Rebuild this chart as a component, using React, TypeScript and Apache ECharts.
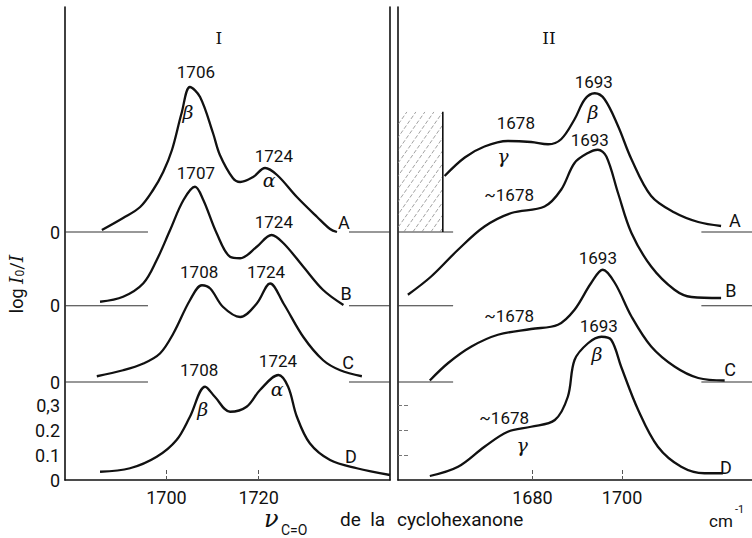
import React, { useEffect, useRef } from "react";
import * as echarts from "echarts";

// ---------- axis ranges / ticks ----------
const panelIRange = [1678, 1748.5];
const panelIIRange = [1650, 1729];
const yMax = 1.892;
const panelITicks = [1700, 1720];
const panelIITicks = [1680, 1700];

// ---------- baselines (zero of each trace, in log I0/I units) ----------
const baseA = 0.992;
const baseB = 0.697;
const baseC = 0.392;
const baseD = 0;

const yLabelValues = [0, 0.1, 0.2, 0.3, baseC, baseB, baseA];
const yLabelTexts = ["0", "0.1", "0.2", "0,3", "0", "0", "0"];

// ---------- spectra: [wavenumber, log I0/I above own baseline] ----------
const curveIA = [[1686.0,0.008],[1690.6,0.056],[1694.3,0.10],[1697.1,0.168],[1699.3,0.24],[1701.2,0.328],[1703.3,0.476],[1705.1,0.58],[1707.3,0.54],[1710.1,0.396],[1711.6,0.308],[1714.4,0.216],[1716.0,0.2],[1718.8,0.22],[1721.4,0.256],[1724.0,0.228],[1728.3,0.14],[1732.7,0.06],[1735.5,0.012],[1737.0,0.0]];
const curveIB = [[1685.6,0.016],[1690.6,0.036],[1695.0,0.09],[1697.9,0.183],[1700.8,0.303],[1703.7,0.423],[1706.2,0.476],[1708.0,0.423],[1710.9,0.29],[1713.8,0.196],[1716.0,0.19],[1719.6,0.236],[1722.8,0.283],[1725.4,0.25],[1729.7,0.156],[1734.0,0.063],[1738.4,0.003]];
const curveIC = [[1684.9,0.023],[1690.6,0.047],[1695.0,0.074],[1698.6,0.114],[1701.5,0.194],[1705.1,0.327],[1707.7,0.387],[1709.5,0.374],[1712.3,0.30],[1716.0,0.26],[1719.6,0.314],[1722.5,0.394],[1725.4,0.314],[1729.7,0.18],[1734.0,0.087],[1737.7,0.047],[1742.4,0.023]];
const curveID = [[1685.6,0.033],[1692.1,0.047],[1697.9,0.093],[1702.2,0.16],[1705.1,0.253],[1708.4,0.373],[1710.5,0.333],[1713.8,0.273],[1717.4,0.293],[1720.3,0.36],[1724.3,0.42],[1726.4,0.373],[1728.3,0.253],[1731.1,0.147],[1735.5,0.08],[1741.3,0.047],[1748.5,0.02]];

const curveIIA = [[1660.4,0.224],[1664.9,0.298],[1669.3,0.342],[1674.5,0.364],[1679.7,0.36],[1683.5,0.351],[1686.4,0.371],[1689.4,0.451],[1691.7,0.531],[1693.9,0.555],[1696.1,0.531],[1699.1,0.424],[1702.1,0.291],[1706.5,0.144],[1711.7,0.078],[1717.0,0.04],[1722.1,0.024]];
const curveIIB = [[1652.2,0.044],[1657.4,0.117],[1663.4,0.224],[1669.3,0.317],[1675.3,0.371],[1682.7,0.397],[1686.4,0.464],[1689.4,0.571],[1692.4,0.611],[1694.6,0.624],[1696.5,0.597],[1699.1,0.451],[1702.1,0.291],[1706.5,0.157],[1711.7,0.064],[1715.5,0.035],[1722.1,0.031]];
const curveIIC = [[1657.1,0.006],[1661.2,0.076],[1666.4,0.142],[1672.3,0.189],[1679.7,0.212],[1685.7,0.229],[1689.4,0.289],[1693.1,0.396],[1695.7,0.449],[1698.4,0.396],[1702.1,0.262],[1706.5,0.142],[1711.7,0.062],[1717.0,0.016],[1722.9,0.006]];
const curveIID = [[1657.1,0.016],[1663.4,0.053],[1669.3,0.133],[1674.5,0.193],[1679.7,0.213],[1685.0,0.24],[1687.9,0.333],[1689.4,0.48],[1692.4,0.547],[1695.4,0.573],[1697.6,0.56],[1699.8,0.453],[1703.6,0.28],[1708.0,0.133],[1713.2,0.053],[1718.4,0.027],[1722.5,0.027]];

// baseline stubs [from, to]
const zeroSegI = [[1678, 1696], [1739.6, 1748.5]];
const zeroSegII = [[1650, 1662.3], [1717.7, 1729]];

// hatched (opaque) region in panel II: [x0, x1, y0, y1]
const hatchBox = [[1650, 1660.0, 0.992, 1.473]];

// ---------- annotations: [text, wavenumber, absolute y] ----------
const peakLabelsI = [["1706",1706.4,1.632],["1724",1723.3,1.296],["1707",1706.4,1.228],["1724",1723.3,1.032],["1708",1707.1,0.832],["1724",1721.6,0.832],["1708",1707.1,0.44],["1724",1724.2,0.476]];
const greekLabelsI = [["β",1704.7,1.472],["α",1722.3,1.2],["β",1707.9,0.284],["α",1724.0,0.364]];
const letterLabelsI = [["A",1738.5,1.032],["B",1739.0,0.748],["C",1739.4,0.472],["D",1740.0,0.096]];
const titleI = [["I",1711.4,1.768]];

const peakLabelsII = [["1693",1693.7,1.592],["1678",1676.3,1.428],["1693",1692.8,1.36],["~1678",1674.8,1.14],["1693",1694.6,0.888],["~1678",1674.8,0.656],["1693",1694.8,0.616],["~1678",1673.7,0.248]];
const greekLabelsII = [["β",1693.5,1.472],["γ",1673.4,1.296],["β",1694.4,0.504],["γ",1677.7,0.14]];
const letterLabelsII = [["A",1725.2,1.04],["B",1724.3,0.76],["C",1724.1,0.444],["D",1723.2,0.052]];
const titleII = [["II",1683.7,1.768]];

const INK = "#111111";
const SANS = "Roboto, 'DejaVu Sans', sans-serif";
const SERIF = "'DejaVu Serif', 'Liberation Serif', serif";

function curveSeries(points: number[][], base: number, grid: number) {
  return {
    type: "line",
    xAxisIndex: grid,
    yAxisIndex: grid === 0 ? 0 : 2,
    data: points.map(([x, y]) => [x, y + base]),
    smooth: 0.35,
    showSymbol: false,
    silent: true,
    lineStyle: { color: INK, width: 2.3 },
    z: 3,
  };
}

function segSeries(seg: number[], base: number, grid: number) {
  return {
    type: "line",
    xAxisIndex: grid,
    yAxisIndex: grid === 0 ? 0 : 2,
    data: [[seg[0], base], [seg[1], base]],
    showSymbol: false,
    silent: true,
    lineStyle: { color: "#333", width: 1.2 },
    z: 2,
  };
}

function annotSeries(list: any[], grid: number, style: any) {
  return {
    type: "scatter",
    xAxisIndex: grid,
    yAxisIndex: grid === 0 ? 0 : 2,
    symbolSize: 0.5,
    silent: true,
    itemStyle: { color: "#ffffff", opacity: 1 },
    data: list.map(([t, x, y]) => ({ value: [x, y], name: t })),
    label: {
      show: true,
      position: "inside",
      formatter: (p: any) => p.name,
      color: INK,
      opacity: 1,
      textBorderWidth: 0,
      textBorderColor: "transparent",
      align: "center",
      verticalAlign: "middle",
      ...style,
    },
    z: 6,
  };
}

export default function App() {
  const ref = useRef<HTMLDivElement>(null);
  useEffect(() => {
    if (!ref.current) return;
    const chart = echarts.init(ref.current, null, { renderer: "svg" });
    const numStyle = { fontFamily: SANS, fontSize: 17 };
    const greekStyle = { fontFamily: SERIF, fontSize: 19, fontStyle: "italic" };
    const letterStyle = { fontFamily: SANS, fontSize: 18 };
    const romanStyle = { fontFamily: SERIF, fontSize: 17 };

    const series: any[] = [];
    const bases = [baseA, baseB, baseC];
    bases.forEach((b) => {
      zeroSegI.forEach((s) => series.push(segSeries(s, b, 0)));
      zeroSegII.forEach((s) => series.push(segSeries(s, b, 1)));
    });
    series.push(curveSeries(curveIA, baseA, 0));
    series.push(curveSeries(curveIB, baseB, 0));
    series.push(curveSeries(curveIC, baseC, 0));
    series.push(curveSeries(curveID, baseD, 0));
    series.push(curveSeries(curveIIA, baseA, 1));
    series.push(curveSeries(curveIIB, baseB, 1));
    series.push(curveSeries(curveIIC, baseC, 1));
    series.push(curveSeries(curveIID, baseD, 1));

    series.push({
      type: "custom",
      xAxisIndex: 1,
      yAxisIndex: 2,
      silent: true,
      data: hatchBox,
      encode: { x: [0, 1], y: [2, 3] },
      renderItem: (params: any, api: any) => {
        const p0 = api.coord([api.value(0), api.value(3)]);
        const p1 = api.coord([api.value(1), api.value(2)]);
        const x = p0[0], y = p0[1];
        const w = p1[0] - p0[0], h = p1[1] - p0[1];
        const hatch: any[] = [];
        const step = 9;
        for (let k = -h * 0.7; k < w + 2; k += step) {
          hatch.push({
            type: "line",
            shape: { x1: x + k, y1: y + h, x2: x + k + h * 0.7, y2: y },
            style: { stroke: "#8a8a8a", lineWidth: 0.8, lineDash: [4, 2] },
          });
        }
        return {
          type: "group",
          children: [
            {
              type: "group",
              children: hatch,
              clipPath: { type: "rect", shape: { x, y, width: w, height: h } },
            },
            {
              type: "line",
              shape: { x1: x + w, y1: y, x2: x + w, y2: y + h },
              style: { stroke: INK, lineWidth: 1.6 },
            },
          ],
        };
      },
      z: 4,
    });

    series.push(annotSeries(peakLabelsI, 0, numStyle));
    series.push(annotSeries(greekLabelsI, 0, greekStyle));
    series.push(annotSeries(letterLabelsI, 0, letterStyle));
    series.push(annotSeries(titleI, 0, romanStyle));
    series.push(annotSeries(peakLabelsII, 1, numStyle));
    series.push(annotSeries(greekLabelsII, 1, greekStyle));
    series.push(annotSeries(letterLabelsII, 1, letterStyle));
    series.push(annotSeries(titleII, 1, romanStyle));

    const xAxisCommon = (range: number[], ticks: number[], grid: number) => ({
      type: "value",
      gridIndex: grid,
      min: range[0],
      max: range[1],
      splitLine: { show: false },
      axisLine: { show: true, lineStyle: { color: INK, width: 1.6 } },
      axisTick: {
        show: true,
        inside: true,
        length: 12,
        customValues: ticks,
        lineStyle: { color: "#555", width: 1, type: "dashed" },
      },
      axisLabel: {
        show: true,
        customValues: ticks,
        formatter: (v: number) => String(Math.round(v)),
        color: INK,
        fontFamily: SANS,
        fontSize: 18,
        margin: 8,
      },
    });

    chart.setOption({
      animation: false,
      backgroundColor: "#ffffff",
      grid: [
        { left: 65, top: 7, width: 325, height: 473 },
        { left: 398, top: 7, width: 354, height: 473 },
      ],
      xAxis: [xAxisCommon(panelIRange, panelITicks, 0), xAxisCommon(panelIIRange, panelIITicks, 1)],
      yAxis: [
        {
          type: "value",
          gridIndex: 0,
          min: 0,
          max: yMax,
          splitLine: { show: false },
          axisLine: { show: true, lineStyle: { color: INK, width: 1.6 } },
          axisTick: { show: false },
          axisLabel: {
            show: true,
            customValues: yLabelValues,
            formatter: (v: number) => {
              const i = yLabelValues.findIndex((u) => Math.abs(u - v) < 1e-6);
              return i >= 0 ? yLabelTexts[i] : "";
            },
            color: INK,
            fontFamily: SANS,
            fontSize: 18,
            margin: 5,
          },
        },
        {
          type: "value",
          gridIndex: 0,
          position: "right",
          min: 0,
          max: yMax,
          splitLine: { show: false },
          axisLine: { show: true, lineStyle: { color: INK, width: 1.6 } },
          axisTick: { show: false },
          axisLabel: { show: false },
        },
        {
          type: "value",
          gridIndex: 1,
          min: 0,
          max: yMax,
          splitLine: { show: false },
          axisLine: { show: true, lineStyle: { color: INK, width: 1.6 } },
          axisTick: {
            show: true,
            inside: true,
            length: 10,
            customValues: [0.1, 0.2, 0.3],
            lineStyle: { color: "#777", width: 1, type: "dashed" },
          },
          axisLabel: { show: false },
        },
      ],
      graphic: [
        {
          type: "text",
          x: 16,
          y: 284,
          rotation: Math.PI / 2,
          style: {
            text: "log {i|I}{s|0}/{i|I}",
            font: "18px " + SANS,
            fill: INK,
            align: "center",
            verticalAlign: "middle",
            rich: {
              i: { fontFamily: SERIF, fontStyle: "italic", fontSize: 19, fill: INK },
              s: { fontFamily: SANS, fontSize: 12, fill: INK, padding: [8, 0, 0, 0] },
            },
          },
        },
        {
          type: "text",
          x: 264,
          y: 519,
          style: { text: "ν", font: "italic 24px " + SERIF, fill: INK, align: "left", verticalAlign: "middle" },
        },
        {
          type: "text",
          x: 281,
          y: 530,
          style: { text: "C=O", font: "14px " + SANS, fill: INK, align: "left", verticalAlign: "middle" },
        },
        {
          type: "text",
          x: 340,
          y: 519,
          style: { text: "de  la", font: "19px " + SANS, fill: INK, align: "left", verticalAlign: "middle" },
        },
        {
          type: "text",
          x: 397,
          y: 519,
          style: { text: "cyclohexanone", font: "19px " + SANS, fill: INK, align: "left", verticalAlign: "middle" },
        },
        {
          type: "text",
          x: 709,
          y: 521,
          style: { text: "cm", font: "17px " + SANS, fill: INK, align: "left", verticalAlign: "middle" },
        },
        {
          type: "text",
          x: 735,
          y: 509,
          style: { text: "-1", font: "11px " + SANS, fill: INK, align: "left", verticalAlign: "middle" },
        },
      ],
      series,
    });
    return () => chart.dispose();
  }, []);
  return <div ref={ref} style={{ width: 752, height: 538, position: "absolute", left: 0, top: 0 }} />;
}
